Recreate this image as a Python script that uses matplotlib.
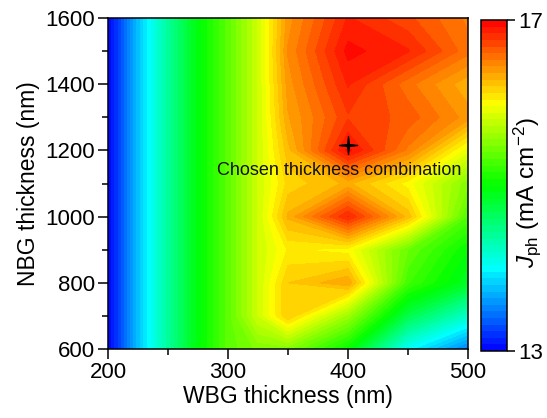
import numpy as np
import matplotlib.pyplot as plt
from matplotlib.colors import LinearSegmentedColormap
from matplotlib.path import Path

plt.rcParams['font.family'] = ['Liberation Sans', 'DejaVu Sans']
plt.rcParams['mathtext.fontset'] = 'custom'
plt.rcParams['mathtext.rm'] = 'Liberation Sans'
plt.rcParams['mathtext.it'] = 'Liberation Sans:italic'

# simulated photocurrent grid
wbg = [200, 225, 250, 275, 300, 325, 350, 400, 450, 500]        # nm
nbg = [600, 700, 800, 900, 1000, 1100, 1200, 1300, 1400, 1500, 1600]  # nm
left_cols = [13.0, 13.75, 14.4, 14.95, 15.35]
jph = np.array([
    left_cols + [15.5, 15.5, 15.0, 14.0, 13.5],
    left_cols + [15.8, 16.2, 15.6, 14.7, 14.2],
    left_cols + [15.8, 16.2, 16.35, 15.25, 14.85],
    left_cols + [15.8, 16.05, 16.0, 15.4, 15.0],
    left_cols + [15.8, 16.3, 16.85, 16.25, 15.3],
    left_cols + [15.8, 16.15, 16.3, 16.0, 15.5],
    left_cols + [15.8, 16.25, 16.95, 16.5, 15.9],
    left_cols + [15.8, 16.35, 16.75, 16.65, 16.4],
    left_cols + [15.8, 16.4, 16.85, 16.55, 16.3],
    left_cols + [15.8, 16.45, 16.95, 16.85, 16.55],
    left_cols + [15.8, 16.4, 16.85, 16.7, 16.5],
])
chosen = (400, 1215)
cbar_ticks = [13, 17]

rainbow = LinearSegmentedColormap.from_list(
    'rainbow5', ['#0000ff', '#00ffff', '#00ff00', '#ffff00', '#ff0000'])

fig = plt.figure(figsize=(5.47, 4.18), dpi=100)
ax = fig.add_axes([0.1974, 0.165, 0.6582, 0.792])
cax = fig.add_axes([0.879, 0.160, 0.0475, 0.792])

levels = np.linspace(13, 17, 51)
cf = ax.contourf(wbg, nbg, jph, levels=levels, cmap=rainbow)

# thin four-point star for the chosen point
w = 0.1
star = Path([(0, 1), (w, w), (1, 0), (w, -w), (0, -1), (-w, -w), (-1, 0), (-w, w), (0, 1)],
            [Path.MOVETO] + [Path.LINETO] * 7 + [Path.CLOSEPOLY])
ax.plot(*chosen, marker=star, markersize=13, color='black', linestyle='none')
ax.text(393, 1140, 'Chosen thickness combination', ha='center', va='center',
        fontsize=13, color='#111111')

ax.set_xlim(200, 500)
ax.set_ylim(600, 1600)
ax.set_xticks([200, 300, 400, 500])
ax.set_xticks([250, 350, 450], minor=True)
ax.set_yticks([600, 800, 1000, 1200, 1400, 1600])
ax.set_yticks([700, 900, 1100, 1300, 1500], minor=True)
ax.tick_params(which='major', direction='out', length=7.5, width=1.1, labelsize=16, pad=2)
ax.tick_params(which='minor', direction='out', length=4.5, width=1.1)
for s in ax.spines.values():
    s.set_linewidth(1.1)
ax.set_xlabel('WBG thickness (nm)', fontsize=16.5, labelpad=1)
ax.set_ylabel('NBG thickness (nm)', fontsize=16.5, labelpad=4)

cb = fig.colorbar(cf, cax=cax, ticks=cbar_ticks)
cb.outline.set_linewidth(1.1)
cb.ax.tick_params(direction='out', length=6, width=1.1, labelsize=16, pad=2)
# label sits between the two tick labels
fig.text(527 / 547, 1 - 193 / 418, r'$J_{\rm ph}$ (mA cm$^{-2}$)', rotation=90,
         ha='center', va='center', fontsize=17.5)

plt.savefig('out.png', dpi=100)
